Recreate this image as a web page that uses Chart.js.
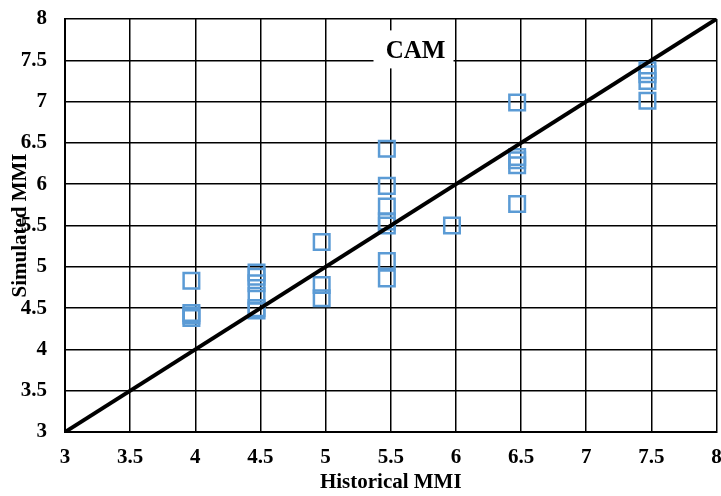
<!DOCTYPE html>
<html>
<head>
<meta charset="utf-8">
<script src="https://cdn.jsdelivr.net/npm/chart.js@4.4.1/dist/chart.umd.min.js"></script>
<style>
  html, body { margin: 0; padding: 0; background: #fff; overflow: hidden; }
  #wrap { width: 721px; height: 496px; }
</style>
</head>
<body>
<div id="wrap"><canvas id="cam"></canvas></div>
<script>
// historical vs simulated MMI
const histX = [
  3.97, 3.97, 3.97, 3.97,
  4.47, 4.47, 4.47, 4.47, 4.47, 4.47,
  4.97, 4.97, 4.97,
  5.47, 5.47, 5.47, 5.47, 5.47, 5.47, 5.47,
  5.97,
  6.47, 6.47, 6.47, 6.47, 6.47,
  7.47, 7.47, 7.47, 7.47
];
const simY = [
  4.83, 4.44, 4.41, 4.38,
  4.93, 4.88, 4.80, 4.65, 4.50, 4.47,
  5.30, 4.78, 4.62,
  6.43, 5.98, 5.73, 5.55, 5.50, 5.07, 4.86,
  5.50,
  6.99, 6.33, 6.29, 6.23, 5.76,
  7.38, 7.33, 7.25, 7.01
];
const oneToOne = [3, 8];
const tickMin = 3;
const tickMax = 8;
const tickStep = 0.5;

const font = "'Liberation Serif', 'Times New Roman', serif";

const titleBox = {
  id: "titleBox",
  afterDraw(chart) {
    const { ctx, scales } = chart;
    const cx = scales.x.getPixelForValue(5.69);
    const cy = scales.y.getPixelForValue(7.62);
    ctx.save();
    ctx.fillStyle = "#fff";
    ctx.fillRect(cx - 42, cy - 20, 80, 38);
    ctx.fillStyle = "#000";
    ctx.font = "bold 25px " + font;
    ctx.textAlign = "center";
    ctx.textBaseline = "middle";
    ctx.fillText("CAM", cx, cy + 1);
    ctx.restore();
  },
};

const chart = new Chart("cam", {
  type: "scatter",
  data: {
    datasets: [
      {
        type: "line",
        data: oneToOne.map((v) => ({ x: v, y: v })),
        borderColor: "#000",
        borderWidth: 4,
        pointRadius: 0,
        order: 0,
      },
      {
        data: histX.map((x, i) => ({ x: x, y: simY[i] })),
        pointStyle: "rect",
        pointRadius: 11,
        borderColor: "#5B9BD5",
        backgroundColor: "rgba(0,0,0,0)",
        borderWidth: 2.5,
        order: 1,
      },
    ],
  },
  options: {
    responsive: true,
    maintainAspectRatio: false,
    animation: false,
    layout: { padding: { top: 19, right: 5, left: 0, bottom: 0 } },
    plugins: {
      legend: { display: false },
      tooltip: { enabled: false },
    },
    scales: {
      x: {
        type: "linear",
        min: tickMin,
        max: tickMax,
        afterFit: (s) => {
          s.height = 64;
          s.paddingLeft = 0;
          s.paddingRight = 0;
        },
        ticks: {
          stepSize: tickStep,
          color: "#000",
          padding: 13,
          callback: (v) => String(v),
          font: { family: font, size: 21, weight: "bold" },
        },
        grid: { color: "#000", lineWidth: 1.5, drawTicks: false },
        border: { color: "#000", width: 2 },
        title: {
          display: true,
          text: "Historical MMI",
          color: "#000",
          padding: { top: 0, bottom: 1 },
          font: { family: font, size: 21, weight: "bold" },
        },
      },
      y: {
        type: "linear",
        min: tickMin,
        max: tickMax,
        afterFit: (s) => {
          s.width = 65;
          s.paddingTop = 0;
          s.paddingBottom = 0;
        },
        ticks: {
          stepSize: tickStep,
          color: "#000",
          padding: 18,
          callback: (v) => String(v),
          font: { family: font, size: 21, weight: "bold" },
        },
        grid: { color: "#000", lineWidth: 1.5, drawTicks: false },
        border: { color: "#000", width: 2 },
        title: {
          display: true,
          text: "Simulated MMI",
          color: "#000",
          padding: { top: 8, bottom: 0 },
          font: { family: font, size: 21, weight: "bold" },
        },
      },
    },
  },
  plugins: [titleBox],
});

// plot area should run to x=716 like the original, last tick label gets cut at the edge
const extra = Math.round(716 - chart.chartArea.right);
if (extra > 0) {
  document.getElementById("wrap").style.width = 721 + extra + "px";
  chart.resize();
}
</script>
</body>
</html>
